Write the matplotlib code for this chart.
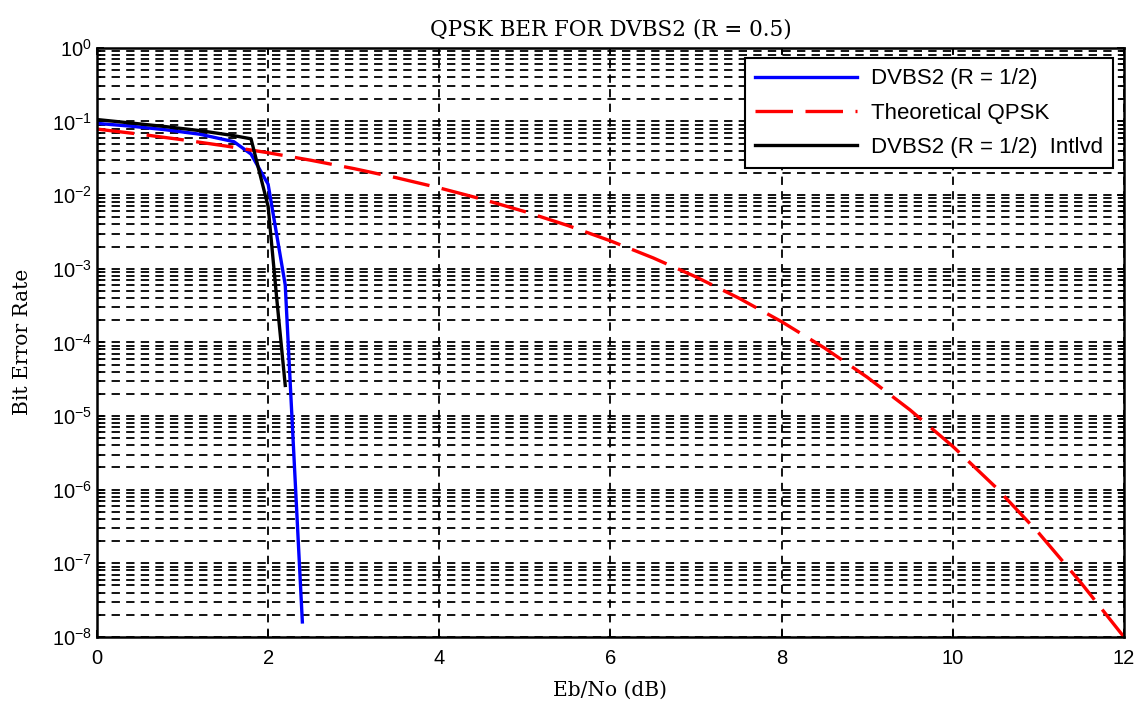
import matplotlib
matplotlib.use("Agg")
import matplotlib.pyplot as plt
from matplotlib.ticker import LogLocator, MultipleLocator, NullFormatter

plt.rcParams['font.family'] = ['Liberation Sans', 'DejaVu Sans']
plt.rcParams['mathtext.default'] = 'regular'
plt.rcParams['lines.scale_dashes'] = False

# DVBS2 (R = 1/2)
ebno_dvb = [0.0, 0.4, 0.8, 1.2, 1.6, 1.8, 2.0, 2.2, 2.4]
ber_dvb = [0.094, 0.086, 0.077, 0.067, 0.053, 0.036, 0.014, 6.0e-4, 1.6e-8]

# theoretical QPSK
ebno_th = [0.0, 0.5, 1.0, 1.5, 2.0, 2.5, 3.0, 3.5, 4.0, 4.5, 5.0, 5.5, 6.0,
           6.5, 7.0, 7.5, 8.0, 8.5, 9.0, 9.5, 10.0, 10.5, 11.0, 11.5, 12.0]
ber_th = [7.865e-2, 6.707e-2, 5.628e-2, 4.640e-2, 3.751e-2, 2.966e-2, 2.288e-2,
          1.717e-2, 1.250e-2, 8.793e-3, 5.954e-3, 3.862e-3, 2.388e-3, 1.400e-3,
          7.727e-4, 3.988e-4, 1.909e-4, 8.40e-5, 3.363e-5, 1.211e-5, 3.872e-6,
          1.084e-6, 2.613e-7, 5.40e-8, 1.0e-8]

# DVBS2 interleaved
ebno_int = [0.0, 0.4, 0.8, 1.2, 1.6, 1.8, 2.0, 2.1, 2.2]
ber_int = [0.106, 0.095, 0.085, 0.075, 0.064, 0.058, 7.0e-3, 4.0e-4, 2.6e-5]

fig = plt.figure(figsize=(11.42, 7.04), dpi=100)
ax = fig.add_axes([0.0849, 0.0952, 0.8993, 0.837])

ax.semilogy(ebno_dvb, ber_dvb, color='#0000ff', lw=2.4, label='DVBS2 (R = 1/2)')
ax.semilogy(ebno_th, ber_th, color='#ff0000', lw=2.4, dashes=(27, 9),
            label='Theoretical QPSK')
ax.semilogy(ebno_int, ber_int, color='black', lw=2.4,
            label='DVBS2 (R = 1/2)  Intlvd')

ax.set_xlim(0, 12)
ax.set_ylim(1e-8, 1)
ax.xaxis.set_major_locator(MultipleLocator(2))
ax.yaxis.set_major_locator(LogLocator(base=10, numticks=20))
ax.yaxis.set_minor_locator(LogLocator(base=10, subs=range(2, 10), numticks=20))
ax.yaxis.set_minor_formatter(NullFormatter())

# MATLAB style grid
ax.grid(True, which='major', color='black', lw=1.3, dashes=(6, 4.5))
ax.grid(True, which='minor', axis='y', color='black', lw=1.3, dashes=(6, 4.5))

ax.tick_params(which='both', direction='in', top=True, right=True,
               labelsize=14.5, width=1.3, colors='black')
ax.tick_params(which='major', length=5)
ax.tick_params(axis='x', pad=9)
ax.tick_params(which='minor', length=3)
for s in ax.spines.values():
    s.set_linewidth(1.8)

ax.set_title('QPSK BER FOR DVBS2 (R = 0.5)', family='DejaVu Serif',
             fontsize=15.5, pad=9)
ax.set_xlabel('Eb/No (dB)', family='DejaVu Serif', fontsize=14.5, labelpad=9)
ax.set_ylabel('Bit Error Rate', family='DejaVu Serif', fontsize=14.5,
              labelpad=14)

leg = ax.legend(loc='upper right', bbox_to_anchor=(0.989, 0.982), fontsize=16,
                handlelength=4.6, handletextpad=0.6, fancybox=False,
                framealpha=1, borderaxespad=0, labelspacing=0.6,
                borderpad=0.45)
leg.get_frame().set_edgecolor('black')
leg.get_frame().set_linewidth(1.5)

fig.savefig('out.png', dpi=100)
